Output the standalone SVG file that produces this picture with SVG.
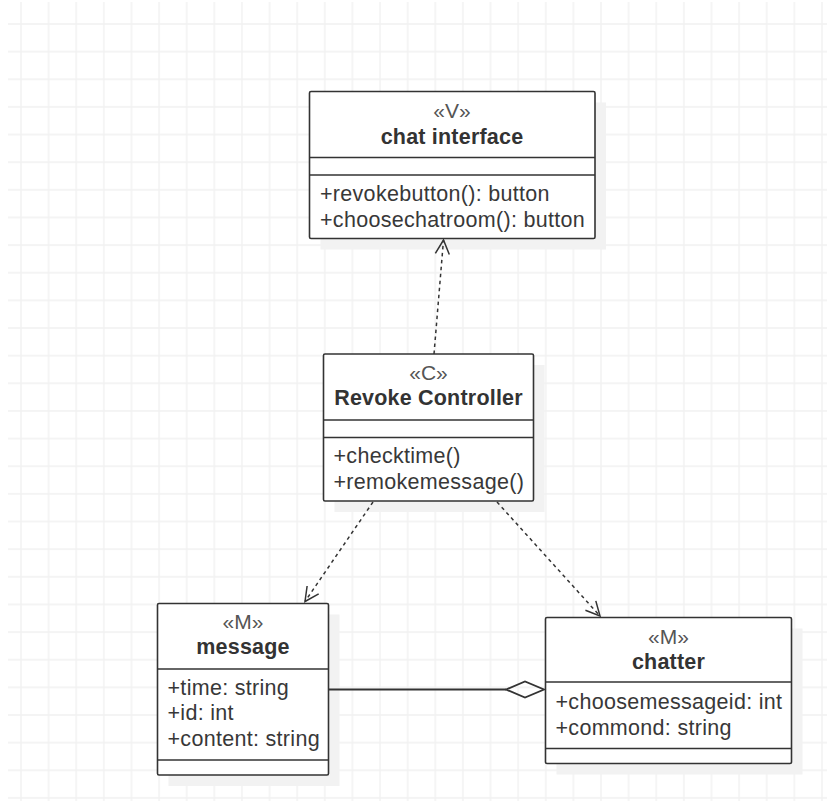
<svg xmlns="http://www.w3.org/2000/svg" width="827" height="801" viewBox="0 0 827 801">
  <style>
    .box { fill: #ffffff; stroke: #333333; stroke-width: 1.6; }
    .shadow { fill: #f2f2f2; stroke: none; }
    .div { stroke: #333333; stroke-width: 1.6; fill: none; }
    .stereo { font-family: "Liberation Sans", Arial, sans-serif; font-size: 21px; fill: #555555; text-anchor: middle; }
    .name { font-family: "Liberation Sans", Arial, sans-serif; font-size: 21.5px; font-weight: bold; fill: #333333; text-anchor: middle; letter-spacing: 0.2px; }
    .member { font-family: "Liberation Sans", Arial, sans-serif; font-size: 21.5px; fill: #383838; letter-spacing: 0.3px; }
    .dep { stroke: #333333; stroke-width: 1.5; fill: none; stroke-dasharray: 3.5 3.5; }
    .assoc { stroke: #333333; stroke-width: 1.8; fill: none; }
  </style>
  <defs>
    <pattern id="grid" x="20" y="23" width="27.62" height="27.64" patternUnits="userSpaceOnUse">
      <path d="M0 1 H27.62 M1 0 V27.64" stroke="#f1f1f1" stroke-width="1.4" fill="none"/>
    </pattern>
    <marker id="openArrow" markerWidth="20" markerHeight="20" refX="0" refY="0" viewBox="-16 -10 20 20" orient="auto" markerUnits="userSpaceOnUse">
      <path d="M-14 -7 L0 0 L-14 7" fill="none" stroke="#333333" stroke-width="1.5"/>
    </marker>
  </defs>

  <!-- canvas and grid -->
  <rect x="0" y="0" width="827" height="801" fill="#ffffff"/>
  <rect x="8" y="2" width="819" height="799" fill="url(#grid)"/>

  <!-- chat interface («V») -->
  <g id="chat-interface">
    <rect class="shadow" x="320.5" y="102.5" width="285.5" height="147"/>
    <rect class="box" x="309.5" y="91.5" width="285.5" height="147" rx="1.5"/>
    <line class="div" x1="309.5" y1="157.5" x2="595" y2="157.5"/>
    <line class="div" x1="309.5" y1="175" x2="595" y2="175"/>
    <text class="stereo" x="452" y="117.5">«V»</text>
    <text class="name" x="452" y="144">chat interface</text>
    <text class="member" x="320" y="200.5">+revokebutton(): button</text>
    <text class="member" x="320" y="226.5">+choosechatroom(): button</text>
  </g>

  <!-- Revoke Controller («C») -->
  <g id="revoke-controller">
    <rect class="shadow" x="334.5" y="365" width="210" height="147"/>
    <rect class="box" x="323.5" y="354" width="210" height="147" rx="1.5"/>
    <line class="div" x1="323.5" y1="420" x2="533.5" y2="420"/>
    <line class="div" x1="323.5" y1="437.5" x2="533.5" y2="437.5"/>
    <text class="stereo" x="428.5" y="380">«C»</text>
    <text class="name" x="428.5" y="405">Revoke Controller</text>
    <text class="member" x="333.5" y="462.5">+checktime()</text>
    <text class="member" x="333.5" y="488.5">+remokemessage()</text>
  </g>

  <!-- message («M») -->
  <g id="message">
    <rect class="shadow" x="168.5" y="614.5" width="171" height="171.5"/>
    <rect class="box" x="157.5" y="603.5" width="171" height="171.5" rx="1.5"/>
    <line class="div" x1="157.5" y1="669" x2="328.5" y2="669"/>
    <line class="div" x1="157.5" y1="760" x2="328.5" y2="760"/>
    <text class="stereo" x="243" y="628.5">«M»</text>
    <text class="name" x="243" y="654">message</text>
    <text class="member" x="167.5" y="694.5">+time: string</text>
    <text class="member" x="167.5" y="720">+id: int</text>
    <text class="member" x="167.5" y="746">+content: string</text>
  </g>

  <!-- chatter («M») -->
  <g id="chatter">
    <rect class="shadow" x="556.5" y="628.5" width="246" height="146"/>
    <rect class="box" x="545.5" y="617.5" width="246" height="146" rx="1.5"/>
    <line class="div" x1="545.5" y1="682" x2="791.5" y2="682"/>
    <line class="div" x1="545.5" y1="748.5" x2="791.5" y2="748.5"/>
    <text class="stereo" x="668.5" y="643.5">«M»</text>
    <text class="name" x="668.5" y="669">chatter</text>
    <text class="member" x="555.5" y="708.5">+choosemessageid: int</text>
    <text class="member" x="555.5" y="734.5">+commond: string</text>
  </g>

  <!-- connectors, drawn over the node shadows -->
  <g id="connectors">
    <line class="dep" x1="434" y1="354" x2="443.5" y2="240" marker-end="url(#openArrow)"/>
    <line class="dep" x1="373" y1="502" x2="305" y2="601.5" marker-end="url(#openArrow)"/>
    <line class="dep" x1="497" y1="502" x2="600" y2="616" marker-end="url(#openArrow)"/>
    <line class="assoc" x1="329" y1="689.5" x2="506" y2="689.5"/>
    <path class="assoc" d="M506 689.5 L525 681.5 L544 689.5 L525 697.5 Z" fill="#ffffff"/>
  </g>
</svg>
